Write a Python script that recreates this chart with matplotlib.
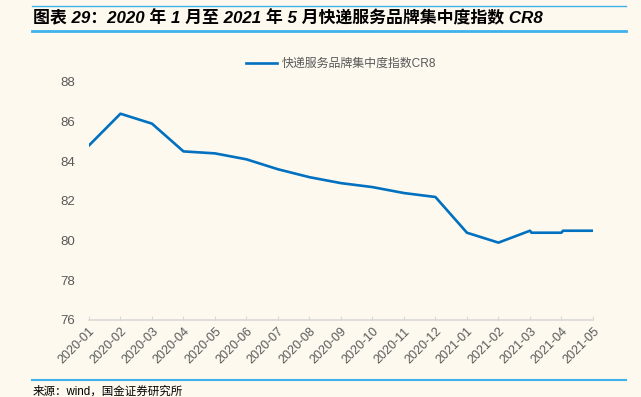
import matplotlib
matplotlib.use("Agg")
import matplotlib.pyplot as plt
from matplotlib.lines import Line2D

plt.rcParams['font.family'] = ['Liberation Sans', 'Noto Sans CJK SC', 'DejaVu Sans']

# 数据
months = ['2020-01', '2020-02', '2020-03', '2020-04', '2020-05', '2020-06',
          '2020-07', '2020-08', '2020-09', '2020-10', '2020-11', '2020-12',
          '2021-01', '2021-02', '2021-03', '2021-04', '2021-05']
# 月份序号（2021-03 与 2021-04 之后各有一个小台阶）
obs_idx = [0, 1, 2, 3, 4, 5, 6, 7, 8, 9, 10, 11, 12, 13, 14, 14.05, 15, 15.05, 16]
cr8 = [84.8, 86.4, 85.9, 84.5, 84.4, 84.1, 83.6, 83.2, 82.9, 82.7, 82.4, 82.2,
       80.4, 79.9, 80.5, 80.4, 80.4, 80.5, 80.5]
yticks = [76, 78, 80, 82, 84, 86, 88]

bg = '#FDF9EF'
blue = '#0070C0'
rule = '#3FB2EA'
gray = '#595959'

fig = plt.figure(figsize=(6.41, 3.97), dpi=100, facecolor=bg)
ax = fig.add_axes([0.1388, 0.194, 0.925 - 0.1388, 0.7935 - 0.194], facecolor=bg)

ax.plot(obs_idx, cr8, color=blue, linewidth=1.9, label='快递服务品牌集中度指数CR8')

ax.set_xlim(0, len(months) - 1)
ax.set_ylim(76, 88)
ax.set_yticks(yticks)
ax.set_xticks(range(len(months)))
ax.set_xticklabels(months, rotation=45, ha='right', va='top', rotation_mode='anchor')

for s in ['top', 'right', 'left']:
    ax.spines[s].set_visible(False)
ax.spines['bottom'].set_color('#D9D9D9')
ax.spines['bottom'].set_linewidth(1.2)
ax.tick_params(axis='x', direction='in', length=3, color='#D9D9D9', labelsize=9,
               labelcolor=gray, pad=4)
ax.tick_params(axis='y', length=0, labelsize=9.5, labelcolor=gray, pad=10)

leg = ax.legend(loc='center', bbox_to_anchor=(0.5, 1.076), frameon=False,
                fontsize=8.6, handlelength=2.6, handletextpad=0.35)
for t in leg.get_texts():
    t.set_color(gray)

# 标题与分隔线
fig.add_artist(Line2D([32 / 641, 626 / 641], [0.986, 0.986], color=rule, linewidth=1.0))
fig.add_artist(Line2D([32 / 641, 626 / 641], [0.922, 0.922], color=rule, linewidth=2.0))
fig.add_artist(Line2D([32 / 641, 626 / 641], [0.043, 0.043], color=rule, linewidth=1.5))

fig.text(33 / 641, 0.955, '图表 29：2020 年 1 月至 2021 年 5 月快递服务品牌集中度指数 CR8',
         fontsize=12.2, fontweight='bold', fontstyle='italic', color='black',
         ha='left', va='center')
fig.text(33 / 641, 0.013, '来源：wind，国金证券研究所', fontsize=8.3, color='black',
         ha='left', va='center')

fig.savefig('out.png', dpi=100, facecolor=bg)
